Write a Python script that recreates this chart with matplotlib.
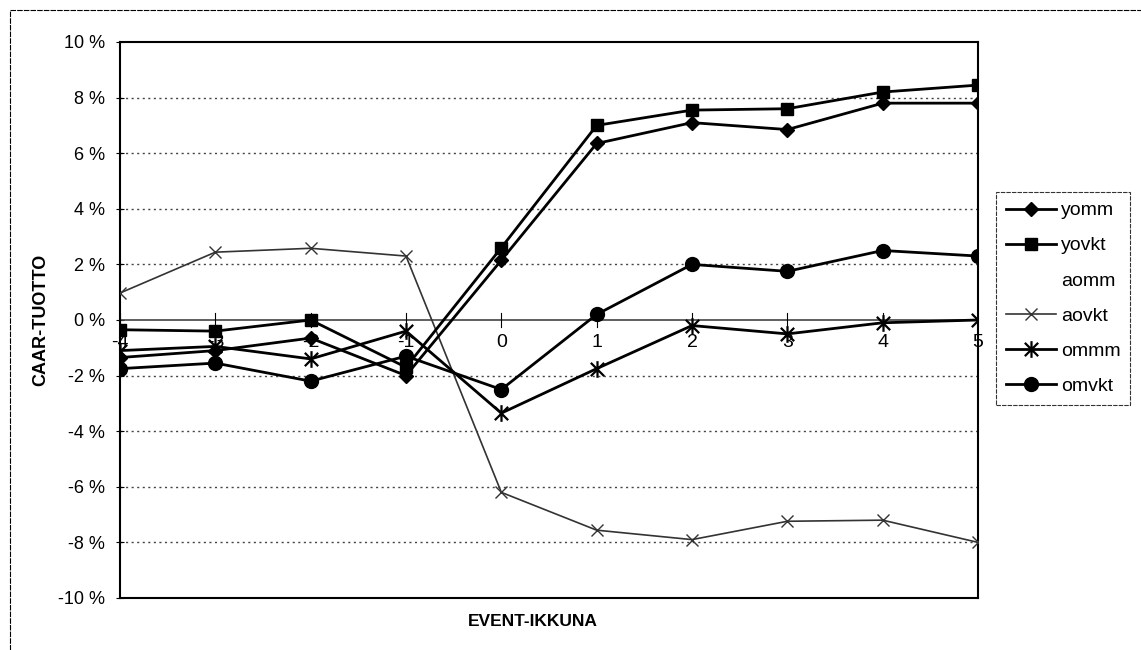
import matplotlib
matplotlib.use("Agg")
import matplotlib.pyplot as plt
from matplotlib.path import Path
from matplotlib.lines import Line2D

plt.rcParams['font.family'] = ['Liberation Sans', 'DejaVu Sans']

categories = [-4, -3, -2, -1, 0, 1, 2, 3, 4, 5]
yomm = [-1.35, -1.1, -0.65, -2.0, 2.15, 6.35, 7.1, 6.85, 7.8, 7.8]
yovkt = [-0.35, -0.4, 0.0, -1.7, 2.6, 7.0, 7.55, 7.6, 8.2, 8.45]
aomm = []
aovkt = [0.97, 2.44, 2.58, 2.3, -6.2, -7.56, -7.9, -7.24, -7.2, -8.0]
ommm = [-1.1, -0.95, -1.4, -0.4, -3.35, -1.75, -0.2, -0.5, -0.1, 0.0]
omvkt = [-1.75, -1.55, -2.2, -1.3, -2.5, 0.2, 2.0, 1.75, 2.5, 2.3]
yticks = [-10, -8, -6, -4, -2, 0, 2, 4, 6, 8, 10]

fig = plt.figure(figsize=(11.41, 6.5), dpi=100)
ax = fig.add_axes([120/1141, 1-598/650, (978-120)/1141, (598-42)/650])

star = Path([(0, -1), (0, 1), (-0.8, -0.8), (0.8, 0.8), (-0.8, 0.8), (0.8, -0.8)],
            [Path.MOVETO, Path.LINETO, Path.MOVETO, Path.LINETO, Path.MOVETO, Path.LINETO])

x = categories
ax.plot(x, yomm, color='black', lw=2.0, marker='D', ms=7, label='yomm', zorder=5)
ax.plot(x, yovkt, color='black', lw=2.0, marker='s', ms=9, label='yovkt', zorder=5)
ax.plot(x[:len(aomm)], aomm, color='none', lw=0, label='aomm')
ax.plot(x, aovkt, color='#333333', lw=1.2, marker='x', ms=9, mew=1.0, label='aovkt', zorder=4)
ax.plot(x, ommm, color='black', lw=2.0, marker=star, ms=12, mew=1.6, mfc='none',
        label='ommm', zorder=5)
ax.plot(x, omvkt, color='black', lw=2.0, marker='o', ms=10, label='omvkt', zorder=5)

ax.set_xlim(-4, 5)
ax.set_ylim(-10, 10)
ax.set_yticks(yticks)
ax.set_yticklabels([f"{v} %" for v in yticks], fontsize=13)
ax.tick_params(axis='y', direction='inout', length=6, width=0.8, pad=8)

# gridlines
for v in yticks:
    if v not in (0, -10, 10):
        ax.axhline(v, color='#444444', lw=1.0, ls=(0, (1.5, 2.5)), zorder=1)

# category axis crossing at 0
ax.axhline(0, color='#444444', lw=1.2, zorder=2)
ax.set_xticks([])
for c in categories:
    ax.plot([c, c], [-0.25, 0.25], color='black', lw=0.8, zorder=2)
    ax.text(c, -0.5, str(c), ha='center', va='top', fontsize=14, zorder=1)

for s in ax.spines.values():
    s.set_linewidth(1.5)
    s.set_color('black')

ax.set_ylabel('CAAR-TUOTTO', fontsize=13, fontweight='bold', labelpad=6)
fig.text(533/1141, 1-621/650, 'EVENT-IKKUNA', ha='center', va='center',
         fontsize=12.5, fontweight='bold')

leg = ax.legend(loc='upper left', bbox_to_anchor=(996/1141, 1-192/650),
                bbox_transform=fig.transFigure, fontsize=14, frameon=True,
                fancybox=False, edgecolor='black', handlelength=2.6,
                labelspacing=0.9, borderpad=0.5, handletextpad=0.25,
                borderaxespad=0)
leg.get_frame().set_linewidth(0.8)
leg.get_frame().set_linestyle((0, (4, 1)))

# outer frame (top and left edges visible)
fig.add_artist(Line2D([10/1141, 1.0], [1-10/650, 1-10/650], transform=fig.transFigure,
                      color='black', lw=0.8, ls=(0, (5, 1))))
fig.add_artist(Line2D([10/1141, 10/1141], [0, 1-10/650], transform=fig.transFigure,
                      color='black', lw=0.8, ls=(0, (5, 1))))

fig.savefig('out.png', dpi=100)
